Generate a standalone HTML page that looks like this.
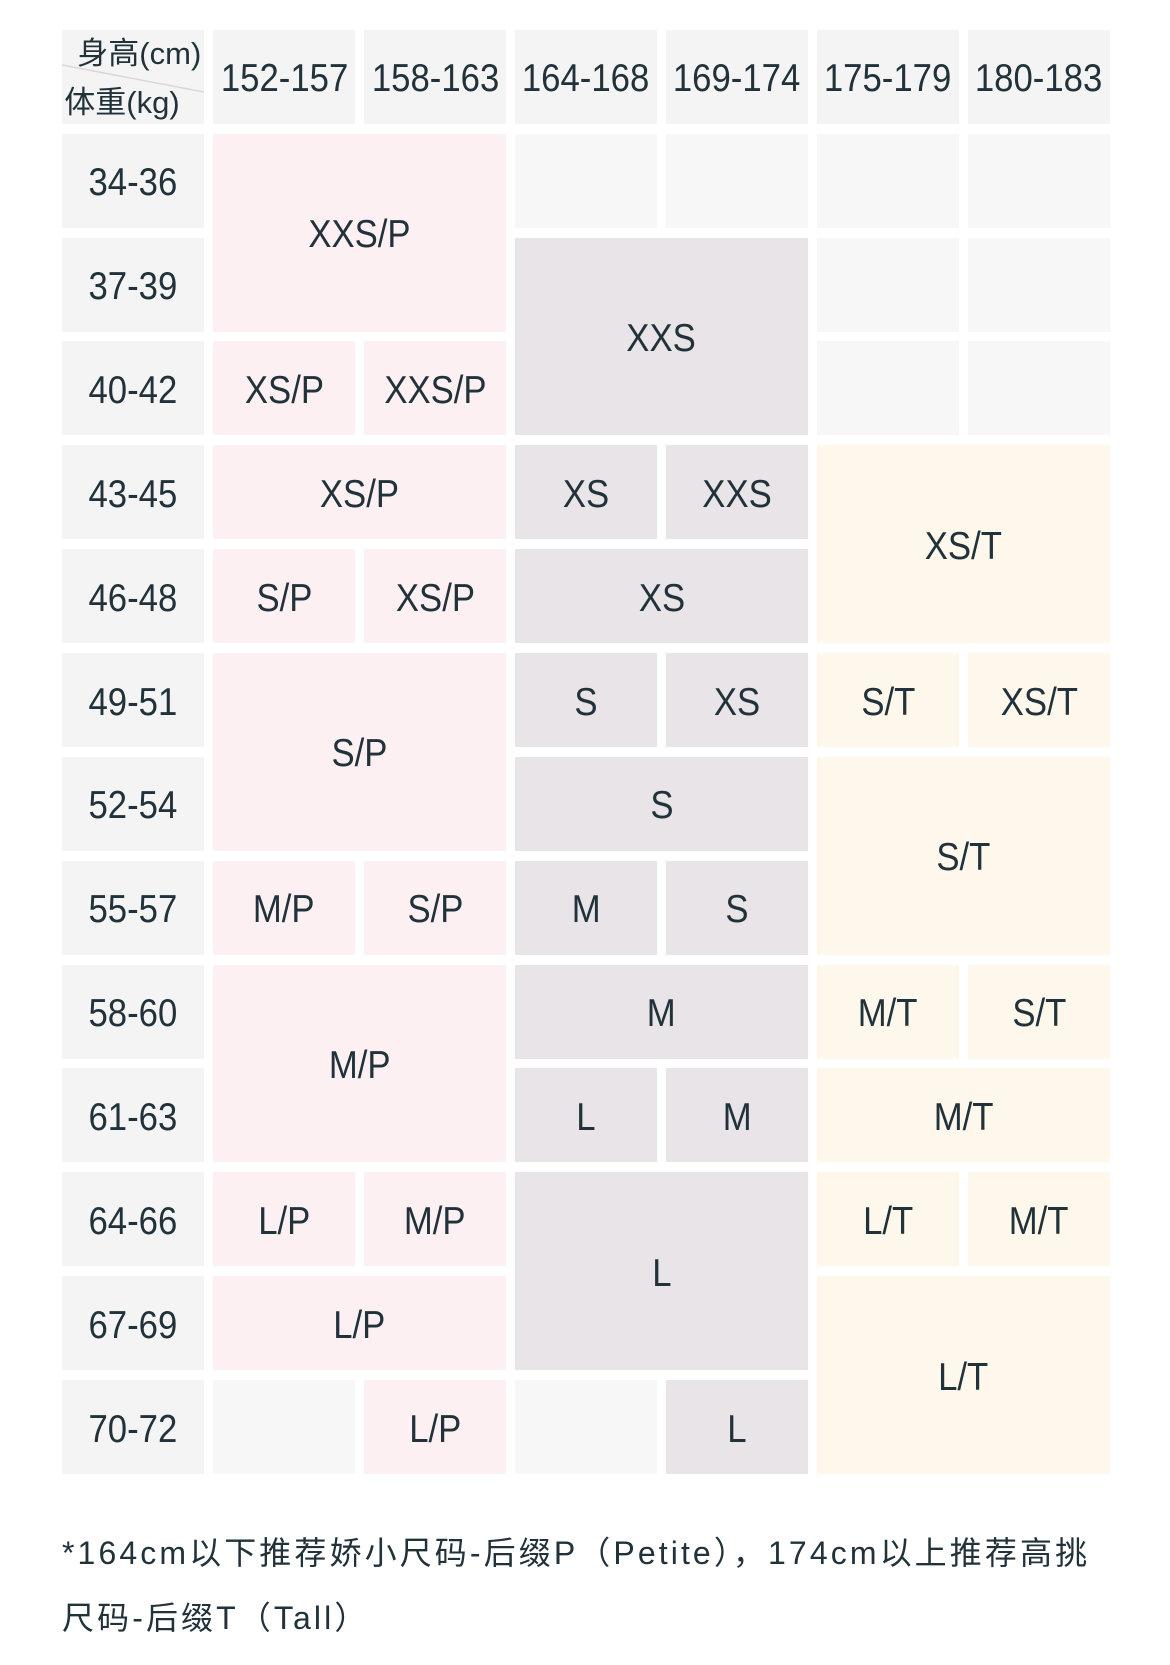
<!DOCTYPE html>
<html><head><meta charset="utf-8">
<style>
html,body{margin:0;padding:0;background:#fff;}
body{width:1170px;height:1665px;position:relative;overflow:hidden;font-family:"Liberation Sans","Noto Sans CJK SC",sans-serif;color:#22323a;}
.c{position:absolute;display:flex;align-items:center;justify-content:center;width:141.8px;height:94px;box-sizing:border-box;padding-top:4px;}
.w2{width:292.75px;}
.h2{height:197.86px;}
.t{display:inline-block;transform:scaleX(.89);font-size:39px;white-space:nowrap;line-height:1;}
.g{background:#f4f4f4;}
.e{background:#f7f7f7;}
.p{background:#fcf0f2;}
.d{background:#e8e4e8;}
.y{background:#fdf7ec;}
.hd{top:30px;height:93.5px;}
.note{position:absolute;left:62px;top:1521px;font-size:32px;line-height:65px;letter-spacing:3.1px;white-space:nowrap;}
</style></head><body>

<!-- header row -->
<div class="c g hd" style="left:62.3px;display:block;padding-top:0;">
  <svg width="142" height="94" style="position:absolute;left:0;top:0"><line x1="0" y1="35" x2="142" y2="62" stroke="#d8d8d8" stroke-width="1.5"/></svg>
  <div style="position:absolute;left:15px;top:8px;font-size:31px;line-height:31px;white-space:nowrap;">身高(cm)</div>
  <div style="position:absolute;left:2px;top:57px;font-size:31px;line-height:31px;white-space:nowrap;">体重(kg)</div>
</div>
<div class="c g hd" style="left:213.25px"><span class="t">152-157</span></div>
<div class="c g hd" style="left:364.2px"><span class="t">158-163</span></div>
<div class="c g hd" style="left:515.15px"><span class="t">164-168</span></div>
<div class="c g hd" style="left:666.1px"><span class="t">169-174</span></div>
<div class="c g hd" style="left:817.05px"><span class="t">175-179</span></div>
<div class="c g hd" style="left:968px"><span class="t">180-183</span></div>

<!-- label column -->
<div class="c g" style="left:62.3px;top:133.7px"><span class="t">34-36</span></div>
<div class="c g" style="left:62.3px;top:237.56px"><span class="t">37-39</span></div>
<div class="c g" style="left:62.3px;top:341.42px"><span class="t">40-42</span></div>
<div class="c g" style="left:62.3px;top:445.28px"><span class="t">43-45</span></div>
<div class="c g" style="left:62.3px;top:549.14px"><span class="t">46-48</span></div>
<div class="c g" style="left:62.3px;top:653px"><span class="t">49-51</span></div>
<div class="c g" style="left:62.3px;top:756.86px"><span class="t">52-54</span></div>
<div class="c g" style="left:62.3px;top:860.72px"><span class="t">55-57</span></div>
<div class="c g" style="left:62.3px;top:964.58px"><span class="t">58-60</span></div>
<div class="c g" style="left:62.3px;top:1068.44px"><span class="t">61-63</span></div>
<div class="c g" style="left:62.3px;top:1172.3px"><span class="t">64-66</span></div>
<div class="c g" style="left:62.3px;top:1276.16px"><span class="t">67-69</span></div>
<div class="c g" style="left:62.3px;top:1380.02px"><span class="t">70-72</span></div>

<!-- pink columns -->
<div class="c p w2 h2" style="left:213.25px;top:133.7px"><span class="t">XXS/P</span></div>
<div class="c p" style="left:213.25px;top:341.42px"><span class="t">XS/P</span></div>
<div class="c p" style="left:364.2px;top:341.42px"><span class="t">XXS/P</span></div>
<div class="c p w2" style="left:213.25px;top:445.28px"><span class="t">XS/P</span></div>
<div class="c p" style="left:213.25px;top:549.14px"><span class="t">S/P</span></div>
<div class="c p" style="left:364.2px;top:549.14px"><span class="t">XS/P</span></div>
<div class="c p w2 h2" style="left:213.25px;top:653px"><span class="t">S/P</span></div>
<div class="c p" style="left:213.25px;top:860.72px"><span class="t">M/P</span></div>
<div class="c p" style="left:364.2px;top:860.72px"><span class="t">S/P</span></div>
<div class="c p w2 h2" style="left:213.25px;top:964.58px"><span class="t">M/P</span></div>
<div class="c p" style="left:213.25px;top:1172.3px"><span class="t">L/P</span></div>
<div class="c p" style="left:364.2px;top:1172.3px"><span class="t">M/P</span></div>
<div class="c p w2" style="left:213.25px;top:1276.16px"><span class="t">L/P</span></div>
<div class="c e" style="left:213.25px;top:1380.02px"></div>
<div class="c p" style="left:364.2px;top:1380.02px"><span class="t">L/P</span></div>

<!-- gray columns -->
<div class="c e" style="left:515.15px;top:133.7px"></div>
<div class="c e" style="left:666.1px;top:133.7px"></div>
<div class="c d w2 h2" style="left:515.15px;top:237.56px"><span class="t">XXS</span></div>
<div class="c d" style="left:515.15px;top:445.28px"><span class="t">XS</span></div>
<div class="c d" style="left:666.1px;top:445.28px"><span class="t">XXS</span></div>
<div class="c d w2" style="left:515.15px;top:549.14px"><span class="t">XS</span></div>
<div class="c d" style="left:515.15px;top:653px"><span class="t">S</span></div>
<div class="c d" style="left:666.1px;top:653px"><span class="t">XS</span></div>
<div class="c d w2" style="left:515.15px;top:756.86px"><span class="t">S</span></div>
<div class="c d" style="left:515.15px;top:860.72px"><span class="t">M</span></div>
<div class="c d" style="left:666.1px;top:860.72px"><span class="t">S</span></div>
<div class="c d w2" style="left:515.15px;top:964.58px"><span class="t">M</span></div>
<div class="c d" style="left:515.15px;top:1068.44px"><span class="t">L</span></div>
<div class="c d" style="left:666.1px;top:1068.44px"><span class="t">M</span></div>
<div class="c d w2 h2" style="left:515.15px;top:1172.3px"><span class="t">L</span></div>
<div class="c e" style="left:515.15px;top:1380.02px"></div>
<div class="c d" style="left:666.1px;top:1380.02px"><span class="t">L</span></div>

<!-- cream columns -->
<div class="c e" style="left:817.05px;top:133.7px"></div>
<div class="c e" style="left:968px;top:133.7px"></div>
<div class="c e" style="left:817.05px;top:237.56px"></div>
<div class="c e" style="left:968px;top:237.56px"></div>
<div class="c e" style="left:817.05px;top:341.42px"></div>
<div class="c e" style="left:968px;top:341.42px"></div>
<div class="c y w2 h2" style="left:817.05px;top:445.28px"><span class="t">XS/T</span></div>
<div class="c y" style="left:817.05px;top:653px"><span class="t">S/T</span></div>
<div class="c y" style="left:968px;top:653px"><span class="t">XS/T</span></div>
<div class="c y w2 h2" style="left:817.05px;top:756.86px"><span class="t">S/T</span></div>
<div class="c y" style="left:817.05px;top:964.58px"><span class="t">M/T</span></div>
<div class="c y" style="left:968px;top:964.58px"><span class="t">S/T</span></div>
<div class="c y w2" style="left:817.05px;top:1068.44px"><span class="t">M/T</span></div>
<div class="c y" style="left:817.05px;top:1172.3px"><span class="t">L/T</span></div>
<div class="c y" style="left:968px;top:1172.3px"><span class="t">M/T</span></div>
<div class="c y w2 h2" style="left:817.05px;top:1276.16px"><span class="t">L/T</span></div>

<div class="note">*164cm以下推荐娇小尺码-后缀P（Petite），174cm以上推荐高挑<br>尺码-后缀T（Tall）</div>

</body></html>
